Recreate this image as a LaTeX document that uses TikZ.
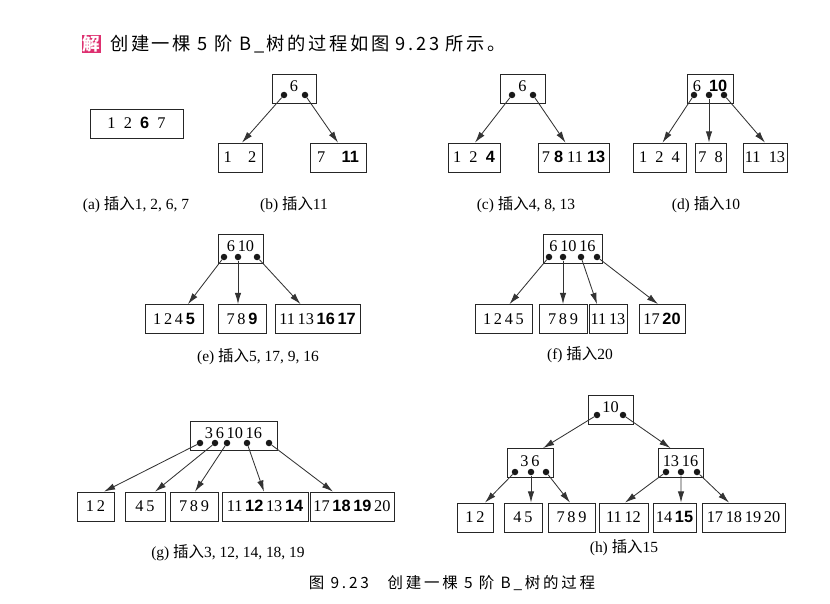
\documentclass[tikz,border=0pt]{standalone}
\usepackage{fontspec}
\setmainfont{Liberation Serif}
\setsansfont{Liberation Sans}
\newfontfamily\cjk{Noto Sans CJK SC}
\usetikzlibrary{arrows.meta}
\definecolor{jiepink}{RGB}{222,48,112}
\def\px{0.025cm}
\newcommand{\bnum}[1]{{\sffamily\bfseries #1}}
\newcommand{\charu}{{\cjk 插入}}

\begin{document}
\begin{tikzpicture}[x=\px,y=-\px,
	bx/.style={draw=black!85,line width=0.55pt,minimum height=29*\px,inner xsep=0pt,
		text height=7.8pt,text depth=0pt,font=\fontsize{11.6}{13}\selectfont},
	rt/.style={bx,text depth=3pt},
	dot/.style={circle,fill=black!90,inner sep=0pt,minimum size=6.5*\px},
	arr/.style={-{Latex[length=2.8mm,width=1.6mm]},draw=black!80,line width=0.6pt},
	captxt/.style={font=\fontsize{11}{13}\selectfont,inner sep=0pt}]

\useasboundingbox (0,0) rectangle (830,604);

%
% Ueberschrift
%
\node[fill=jiepink,text=white,font=\cjk\bfseries\fontsize{12.5}{14}\selectfont,
	inner sep=0.5pt,minimum width=19*\px,minimum height=18*\px] (jie) at (91.5,44) {解};
\node[anchor=west,inner sep=0pt,
	font=\cjk\fontsize{13}{15}\selectfont\addfontfeature{LetterSpace=14}]
	(title) at (110,44) {创建一棵 5 阶 B\_树的过程如图 9.23 所示。};

%
% (a) und (b)
%
\node[bx,minimum width=93*\px] (a) at (136.5,123.5)
	{1\enspace 2\enspace \bnum{6}\enspace 7};
\node[captxt] (capa) at (136,205) {(a) \charu 1, 2, 6, 7};

\node[rt,minimum width=44*\px] (br) at (294,88.5) {6};
\node[dot] (bd1) at (284,95) {};
\node[dot] (bd2) at (305,95) {};
\node[bx,minimum width=44*\px] (bl) at (240,157.5) {1\quad 2};
\node[bx,minimum width=56*\px] (brt) at (338,157.5) {7\quad \bnum{11}};
\node[captxt] (capb) at (294,205) {(b) \charu 11};

%
% (c) und (d)
%
\node[rt,minimum width=45*\px] (cr) at (522.5,88.5) {6};
\node[dot] (cd1) at (512,95) {};
\node[dot] (cd2) at (533,95) {};
\node[bx,minimum width=52*\px] (cl) at (474,157.5) {1\enspace 2\enspace \bnum{4}};
\node[bx,minimum width=71*\px] (crt) at (573.5,157.5)
	{7\ \bnum{8}\ 11\ \bnum{13}};
\node[captxt] (capc) at (526,205) {(c) \charu 4, 8, 13};

\node[rt,minimum width=46*\px] (dr) at (710,88.5) {6\enspace \bnum{10}};
\node[dot] (dd1) at (694,95) {};
\node[dot] (dd2) at (709,95) {};
\node[dot] (dd3) at (724,95) {};
\node[bx,minimum width=53*\px] (dl) at (659.5,157.5) {1\enspace 2\enspace 4};
\node[bx,minimum width=31*\px] (dm) at (710.5,157.5) {7\enspace 8};
\node[bx,minimum width=44*\px] (drt) at (765,157.5) {11\enspace 13};
\node[captxt] (capd) at (706,205) {(d) \charu 10};

%
% (e) und (f)
%
\node[rt,minimum width=45*\px] (er) at (240.5,248.5) {6\,10};
\node[dot] (ed1) at (224,257) {};
\node[dot] (ed2) at (238,257) {};
\node[dot] (ed3) at (257,257) {};
\node[bx,minimum width=58*\px] (el) at (174,319) {1\,2\,4\,\bnum{5}};
\node[bx,minimum width=48*\px] (em) at (242,319) {7\,8\,\bnum{9}};
\node[bx,minimum width=85*\px] (ert) at (317.5,319)
	{11\,13\,\bnum{16}\,\bnum{17}};
\node[captxt] (cape) at (258,357) {(e) \charu 5, 17, 9, 16};

\node[rt,minimum width=59*\px] (fr) at (572.5,248.5) {6\,10\,16};
\node[dot] (fd1) at (549,257) {};
\node[dot] (fd2) at (563,257) {};
\node[dot] (fd3) at (581,257) {};
\node[dot] (fd4) at (597,257) {};
\node[bx,minimum width=57*\px] (f1) at (503.5,319) {1\,2\,4\,5};
\node[bx,minimum width=48*\px] (f2) at (563,319) {7\,8\,9};
\node[bx,minimum width=38*\px] (f3) at (608,319) {11\,13};
\node[bx,minimum width=46*\px] (f4) at (662,319) {17\,\bnum{20}};
\node[captxt] (capf) at (580,355) {(f) \charu 20};

%
% (g)
%
\node[rt,minimum width=87*\px] (gr) at (233.5,435.5) {3\,6\,10\,16};
\foreach \n/\x in {1/200,2/215,3/227,4/247,5/269}
	\node[dot] (gd\n) at (\x,443) {};
\node[bx,minimum width=37*\px] (g1) at (95.5,506.5) {1\,2};
\node[bx,minimum width=40*\px] (g2) at (145,506.5) {4\,5};
\node[bx,minimum width=48*\px] (g3) at (194,506.5) {7\,8\,9};
\node[bx,minimum width=86*\px] (g4) at (265,506.5)
	{11\,\bnum{12}\,13\,\bnum{14}};
\node[bx,minimum width=84*\px] (g5) at (352,506.5)
	{17\,\bnum{18}\,\bnum{19}\,20};
\node[captxt] (capg) at (228,553) {(g) \charu 3, 12, 14, 18, 19};

%
% (h)
%
\node[rt,minimum width=45*\px] (hr) at (610.5,409.5) {10};
\node[dot] (hd1) at (597,415) {};
\node[dot] (hd2) at (623,415) {};
\node[rt,minimum width=46*\px] (hm1) at (530,463) {3\,6};
\node[rt,minimum width=45*\px] (hm2) at (680.5,463) {13\,16};
\foreach \n/\x in {1/515,2/531,3/546,4/666,5/681,6/697}
	\node[dot] (hmd\n) at (\x,472) {};
\node[bx,minimum width=36*\px] (h1) at (475,517.5) {1\,2};
\node[bx,minimum width=38*\px] (h2) at (523,517.5) {4\,5};
\node[bx,minimum width=47*\px] (h3) at (571.5,517.5) {7\,8\,9};
\node[bx,minimum width=49*\px] (h4) at (623.5,517.5) {11\,12};
\node[bx,minimum width=43*\px] (h5) at (674.5,517.5) {14\,\bnum{15}};
\node[bx,minimum width=83*\px] (h6) at (743.5,517.5) {17\,18\,19\,20};
\node[captxt] (caph) at (624,548) {(h) \charu 15};

%
% Zeiger
%
\foreach \src/\dst/\dx in {bd1/bl/2,bd2/brt/0,cd1/cl/1,cd2/crt/-8,
		dd1/dl/3,dd2/dm/-1.5,dd3/drt/0,
		ed1/el/14,ed2/em/-4,ed3/ert/-17,
		fd1/f1/6,fd2/f2/0,fd3/f3/-11,fd4/f4/-4,
		gd1/g1/8.5,gd2/g2/10,gd3/g3/1,gd4/g4/-1,gd5/g5/-19,
		hd1/hm1/13,hd2/hm2/-10,
		hmd1/h1/10,hmd2/h2/8,hmd3/h3/-1.5,hmd4/h4/1.5,hmd5/h5/6.5,hmd6/h6/-14.5}
	\draw[arr] (\src) -- ([xshift=\dx*\px]\dst.north);

%
% Bildunterschrift
%
\node[font=\cjk\fontsize{11}{13}\selectfont\addfontfeature{LetterSpace=18}]
	(fig) at (452,583) {图 9.23\hspace{1.2em}创建一棵 5 阶 B\_树的过程};

\end{tikzpicture}
\end{document}
